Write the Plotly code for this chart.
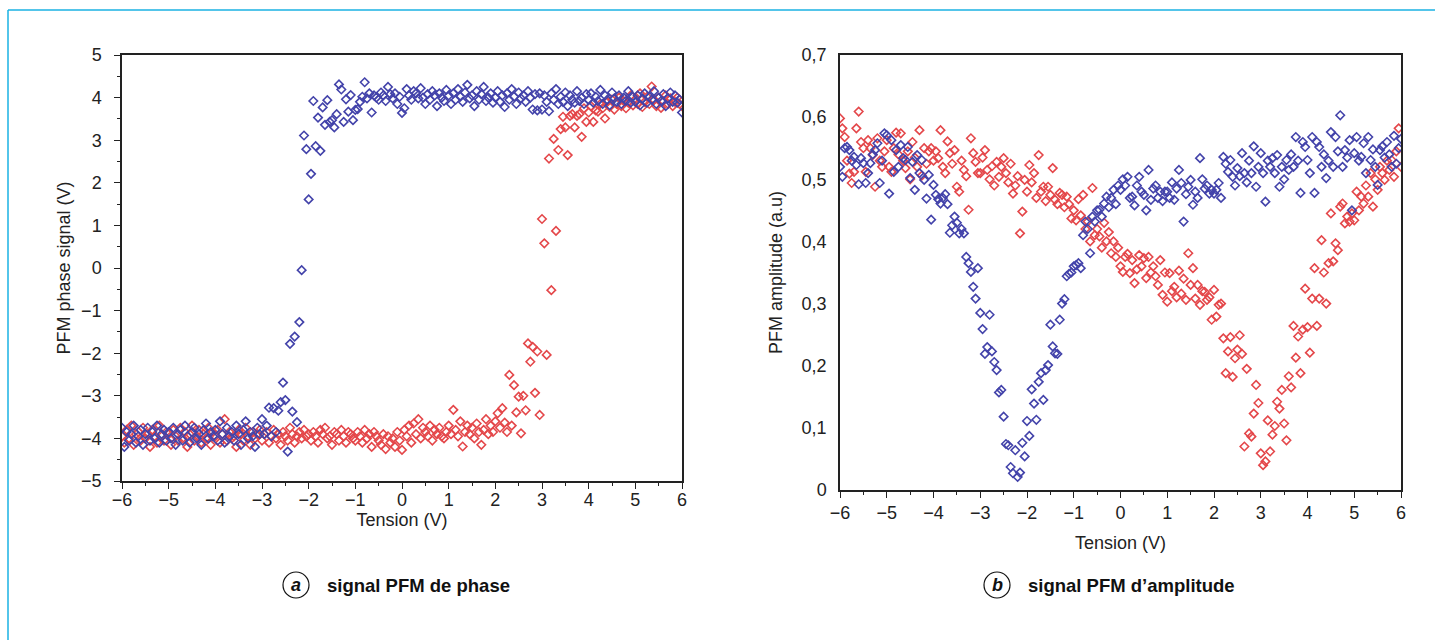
import numpy as np
import plotly.graph_objects as go

# ---------------- data ----------------
# voltage sweep (V), regular 0.05 V steps from -6 to 6
VOLTAGE = np.round(np.arange(-6.0, 6.0001, 0.05), 2)

PHASE_BLUE = [
    -3.75, -4.20, -3.85, -4.05, -3.90, -3.70, -4.10, -3.95, -3.80, -4.15, -3.90, -3.75, -4.05, -3.85, -4.00, -3.70, -4.10, -3.90, -3.80, -4.05,
    -3.85, -4.00, -3.75, -4.15, -3.90, -3.80, -4.05, -3.70, -3.95, -4.10, -3.85, -3.75, -4.00, -3.90, -4.15, -3.80, -3.65, -4.00, -3.85, -3.95,
    -3.80, -4.05, -3.60, -3.90, -4.10, -3.75, -3.95, -3.85, -4.05, -3.70, -3.90, -4.15, -3.80, -3.60, -4.00, -3.85, -3.95, -4.20, -3.75, -3.90,
    -3.55, -3.90, -3.70, -3.28, -3.95, -3.29, -3.85, -3.35, -3.15, -2.69, -3.10, -4.31, -1.78, -3.37, -1.61, -3.62, -1.27, -0.05, 3.11, 2.79,
    1.61, 2.21, 3.92, 2.86, 3.53, 2.75, 3.77, 3.36, 3.94, 3.43, 3.47, 3.30, 3.61, 4.31, 4.19, 3.43, 3.96, 3.67, 4.06, 3.47,
    3.71, 3.73, 3.90, 4.02, 4.36, 3.98, 4.10, 3.65, 4.05, 4.00, 3.95, 4.12, 4.05, 3.92, 4.25, 4.08, 3.98, 4.10, 3.85, 4.02,
    3.64, 3.75, 4.20, 4.05, 3.95, 4.15, 4.10, 3.98, 4.22, 4.00, 3.85, 4.08, 3.95, 4.15, 4.05, 3.80, 4.10, 4.00, 3.92, 4.18,
    4.05, 3.85, 4.10, 3.95, 4.20, 4.02, 3.90, 4.12, 4.30, 3.98, 4.05, 3.80, 4.15, 3.95, 4.08, 4.25, 3.92, 4.00, 4.10, 3.88,
    4.00, 4.15, 3.90, 4.05, 3.78, 4.10, 3.95, 4.20, 4.02, 3.85, 4.12, 3.98, 4.05, 3.90, 4.15, 4.00, 3.72, 4.08, 3.70, 4.10,
    3.72, 4.05, 3.90, 3.68, 4.10, 3.95, 4.20, 3.85, 4.02, 3.90, 4.12, 3.80, 4.05, 3.95, 3.88, 4.15, 3.92, 4.00, 3.85, 4.08,
    3.95, 4.10, 3.88, 4.02, 3.92, 4.18, 3.85, 4.05, 3.95, 3.82, 4.12, 3.98, 3.90, 4.05, 3.85, 4.00, 3.92, 4.15, 3.88, 4.02,
    3.90, 4.05, 3.82, 3.98, 4.10, 3.88, 4.02, 3.95, 4.15, 3.85, 4.00, 3.92, 4.08, 3.80, 3.98, 4.12, 3.90, 4.05, 3.88, 3.95,
    3.65,
]

PHASE_RED = [
    -3.95, -4.10, -3.80, -4.00, -3.70, -4.15, -3.90, -3.85, -4.05, -3.75, -4.00, -3.90, -4.20, -3.80, -3.95, -4.10, -3.70, -3.95, -4.05, -3.85,
    -3.90, -4.15, -3.80, -3.95, -4.05, -3.75, -4.00, -3.85, -4.20, -3.90, -3.70, -4.05, -3.95, -3.80, -4.10, -3.90, -4.00, -3.75, -4.15, -3.85,
    -3.95, -3.80, -4.10, -3.90, -3.55, -4.05, -3.85, -4.00, -3.95, -4.20, -3.80, -3.90, -4.05, -3.75, -3.95, -4.15, -3.85, -4.00, -3.90, -3.80,
    -4.05, -3.90, -3.85, -4.10, -3.95, -3.80, -4.00, -3.90, -4.15, -3.85, -3.95, -4.05, -3.75, -3.90, -4.10, -3.95, -3.85, -4.00, -3.80, -3.95,
    -3.90, -4.05, -3.85, -3.95, -4.10, -3.80, -3.90, -3.75, -4.00, -3.95, -4.15, -3.85, -3.90, -4.05, -3.80, -3.95, -4.10, -3.85, -3.90, -4.00,
    -4.05, -3.85, -3.95, -4.10, -3.80, -4.00, -3.90, -4.20, -3.85, -3.95, -4.05, -4.15, -3.90, -4.25, -3.95, -4.10, -4.00, -4.20, -3.85, -4.05,
    -4.27, -3.80, -3.95, -3.70, -4.10, -3.65, -3.90, -3.55, -4.00, -3.75, -3.85, -3.95, -3.70, -4.05, -3.80, -3.90, -3.75, -3.95, -4.00, -3.85,
    -3.70, -3.90, -3.33, -3.80, -3.95, -3.60, -4.19, -3.85, -3.70, -3.90, -3.75, -4.00, -3.65, -3.85, -4.15, -3.80, -3.55, -3.90, -3.70, -3.85,
    -3.60, -3.41, -3.75, -3.29, -3.63, -3.85, -2.51, -3.70, -2.75, -3.39, -3.02, -3.88, -3.00, -3.34, -1.77, -2.20, -1.85, -2.93, -1.96, -3.45,
    1.15, 0.58, -2.04, 2.57, -0.52, 3.03, 0.87, 2.77, 3.26, 3.55, 3.30, 2.65, 3.57, 3.61, 3.30, 3.57, 3.61, 3.08, 3.75, 3.43,
    3.65, 3.80, 3.43, 3.70, 3.67, 3.85, 3.75, 3.51, 3.90, 3.78, 3.95, 3.72, 3.85, 4.00, 3.80, 3.92, 3.75, 3.88, 4.05, 3.82,
    3.95, 3.85, 4.10, 3.78, 3.90, 4.02, 3.85, 4.26, 3.95, 3.80, 4.00, 3.76, 3.92, 4.05, 3.85, 3.98, 3.80, 3.90, 4.00, 3.85,
    3.80,
]

AMP_BLUE = [
    0.520, 0.504, 0.550, 0.552, 0.547, 0.530, 0.536, 0.523, 0.492, 0.534, 0.526, 0.494, 0.510, 0.526, 0.540, 0.547, 0.558, 0.494, 0.530, 0.574,
    0.571, 0.477, 0.563, 0.512, 0.547, 0.520, 0.555, 0.534, 0.531, 0.552, 0.502, 0.528, 0.483, 0.539, 0.510, 0.531, 0.499, 0.469, 0.507, 0.435,
    0.491, 0.475, 0.468, 0.461, 0.470, 0.476, 0.460, 0.414, 0.426, 0.440, 0.430, 0.413, 0.420, 0.413, 0.375, 0.365, 0.351, 0.327, 0.308, 0.357,
    0.285, 0.259, 0.219, 0.230, 0.282, 0.223, 0.206, 0.193, 0.157, 0.161, 0.118, 0.074, 0.072, 0.037, 0.027, 0.064, 0.021, 0.028, 0.076, 0.054,
    0.111, 0.087, 0.162, 0.139, 0.113, 0.174, 0.188, 0.145, 0.193, 0.201, 0.266, 0.231, 0.220, 0.219, 0.274, 0.300, 0.307, 0.344, 0.348, 0.350,
    0.360, 0.362, 0.365, 0.357, 0.410, 0.432, 0.420, 0.381, 0.440, 0.432, 0.450, 0.451, 0.440, 0.461, 0.472, 0.455, 0.470, 0.483, 0.460, 0.490,
    0.483, 0.500, 0.490, 0.504, 0.470, 0.472, 0.458, 0.490, 0.504, 0.480, 0.475, 0.450, 0.515, 0.467, 0.485, 0.490, 0.470, 0.480, 0.465, 0.480,
    0.480, 0.470, 0.495, 0.467, 0.485, 0.515, 0.494, 0.432, 0.476, 0.488, 0.499, 0.459, 0.480, 0.470, 0.534, 0.500, 0.485, 0.490, 0.477, 0.483,
    0.477, 0.483, 0.494, 0.470, 0.536, 0.525, 0.512, 0.531, 0.504, 0.490, 0.518, 0.505, 0.542, 0.510, 0.495, 0.530, 0.510, 0.553, 0.488, 0.520,
    0.542, 0.510, 0.464, 0.530, 0.520, 0.534, 0.510, 0.539, 0.488, 0.520, 0.500, 0.531, 0.515, 0.540, 0.520, 0.568, 0.530, 0.478, 0.560, 0.552,
    0.531, 0.510, 0.568, 0.478, 0.560, 0.552, 0.520, 0.540, 0.502, 0.530, 0.576, 0.520, 0.568, 0.545, 0.603, 0.520, 0.547, 0.535, 0.563, 0.450,
    0.542, 0.568, 0.530, 0.536, 0.558, 0.510, 0.568, 0.531, 0.548, 0.520, 0.491, 0.547, 0.553, 0.535, 0.560, 0.540, 0.520, 0.570, 0.525, 0.550,
    0.565,
]

AMP_RED = [
    0.598, 0.582, 0.568, 0.530, 0.509, 0.494, 0.512, 0.582, 0.609, 0.560, 0.550, 0.512, 0.563, 0.550, 0.539, 0.488, 0.566, 0.530, 0.520, 0.545,
    0.563, 0.520, 0.512, 0.550, 0.575, 0.540, 0.574, 0.530, 0.518, 0.545, 0.500, 0.560, 0.535, 0.520, 0.579, 0.506, 0.550, 0.525, 0.545, 0.550,
    0.530, 0.545, 0.534, 0.579, 0.520, 0.510, 0.561, 0.542, 0.525, 0.547, 0.488, 0.480, 0.530, 0.515, 0.505, 0.451, 0.566, 0.542, 0.528, 0.510,
    0.510, 0.535, 0.547, 0.515, 0.500, 0.521, 0.490, 0.528, 0.504, 0.520, 0.534, 0.510, 0.495, 0.525, 0.477, 0.490, 0.505, 0.413, 0.448, 0.499,
    0.480, 0.523, 0.495, 0.510, 0.470, 0.539, 0.480, 0.488, 0.465, 0.488, 0.475, 0.518, 0.467, 0.460, 0.478, 0.475, 0.455, 0.472, 0.460, 0.437,
    0.450, 0.434, 0.468, 0.442, 0.475, 0.420, 0.432, 0.400, 0.486, 0.410, 0.420, 0.408, 0.390, 0.430, 0.400, 0.415, 0.381, 0.400, 0.375, 0.390,
    0.360, 0.351, 0.375, 0.380, 0.349, 0.370, 0.333, 0.355, 0.378, 0.360, 0.373, 0.341, 0.375, 0.350, 0.360, 0.344, 0.330, 0.370, 0.314, 0.350,
    0.303, 0.349, 0.320, 0.327, 0.310, 0.353, 0.316, 0.340, 0.306, 0.381, 0.330, 0.357, 0.308, 0.330, 0.298, 0.320, 0.319, 0.306, 0.310, 0.274,
    0.322, 0.279, 0.298, 0.300, 0.244, 0.188, 0.223, 0.246, 0.182, 0.212, 0.226, 0.249, 0.219, 0.070, 0.195, 0.091, 0.086, 0.123, 0.169, 0.140,
    0.059, 0.040, 0.046, 0.112, 0.062, 0.089, 0.103, 0.142, 0.131, 0.161, 0.107, 0.080, 0.183, 0.165, 0.264, 0.213, 0.247, 0.188, 0.258, 0.324,
    0.262, 0.221, 0.308, 0.357, 0.264, 0.308, 0.402, 0.350, 0.300, 0.365, 0.445, 0.368, 0.397, 0.386, 0.456, 0.461, 0.429, 0.440, 0.432, 0.445,
    0.434, 0.480, 0.450, 0.472, 0.461, 0.490, 0.472, 0.510, 0.456, 0.500, 0.483, 0.520, 0.510, 0.499, 0.530, 0.515, 0.531, 0.504, 0.545, 0.582,
    0.520,
]

X_TICKS = [-6, -5, -4, -3, -2, -1, 0, 1, 2, 3, 4, 5, 6]
PHASE_TICKS = [-5, -4, -3, -2, -1, 0, 1, 2, 3, 4, 5]
AMP_TICKS = [0, 0.1, 0.2, 0.3, 0.4, 0.5, 0.6, 0.7]
AMP_TICK_TEXT = ["0", "0,1", "0,2", "0,3", "0,4", "0,5", "0,6", "0,7"]

# ---------------- styling ----------------
W, H = 1435, 640
FONT = "Liberation Sans, Arial, sans-serif"
BLUE = "#4343aa"
RED = "#e4474a"
AXC = "#222222"
CYAN = "#1ab2e3"
TICK_SIZE = 18
TITLE_SIZE = 18


def px(x):
    return x / W


def py(y):
    return 1 - y / H


fig = go.Figure()

marker_common = dict(symbol="diamond-open", size=6.5)

fig.add_trace(go.Scatter(x=VOLTAGE, y=PHASE_RED, mode="markers", xaxis="x", yaxis="y",
                         marker=dict(color=RED, line=dict(width=1.6), **marker_common), showlegend=False))
fig.add_trace(go.Scatter(x=VOLTAGE, y=PHASE_BLUE, mode="markers", xaxis="x", yaxis="y",
                         marker=dict(color=BLUE, line=dict(width=1.6), **marker_common), showlegend=False))
fig.add_trace(go.Scatter(x=VOLTAGE, y=AMP_RED, mode="markers", xaxis="x2", yaxis="y2",
                         marker=dict(color=RED, line=dict(width=1.6), **marker_common), showlegend=False))
fig.add_trace(go.Scatter(x=VOLTAGE, y=AMP_BLUE, mode="markers", xaxis="x2", yaxis="y2",
                         marker=dict(color=BLUE, line=dict(width=1.6), **marker_common), showlegend=False))

axis_common = dict(
    showline=True, linecolor=AXC, linewidth=1.5, mirror=True,
    ticks="outside", ticklen=6, tickwidth=1.2, tickcolor=AXC,
    showgrid=False, zeroline=False, automargin=False,
    tickfont=dict(size=TICK_SIZE, color=AXC, family=FONT),
)
minor_common = dict(ticks="outside", ticklen=3, tickwidth=1, tickcolor=AXC)

fig.update_layout(
    width=W, height=H,
    margin=dict(l=0, r=0, t=0, b=0, autoexpand=False),
    paper_bgcolor="white", plot_bgcolor="white",
    font=dict(family=FONT, color=AXC, size=TITLE_SIZE),
    xaxis=dict(domain=[px(122), px(682)], anchor="y", range=[-6, 6], tickvals=X_TICKS,
               minor=dict(dtick=0.5, **minor_common), ticklabelstandoff=-4,
               title=dict(text="Tension (V)", font=dict(size=TITLE_SIZE), standoff=0), **axis_common),
    yaxis=dict(domain=[py(481), py(55)], anchor="x", range=[-5, 5], tickvals=PHASE_TICKS,
               minor=dict(dtick=0.5, **minor_common), ticklabelstandoff=9,
               title=dict(text="PFM phase signal (V)", font=dict(size=TITLE_SIZE), standoff=6), **axis_common),
    xaxis2=dict(domain=[px(840), px(1401)], anchor="y2", range=[-6, 6], tickvals=X_TICKS,
                minor=dict(dtick=0.5, **minor_common),
                title=dict(text="Tension (V)", font=dict(size=TITLE_SIZE), standoff=14), **axis_common),
    yaxis2=dict(domain=[py(490), py(55)], anchor="x2", range=[0, 0.7],
                tickvals=AMP_TICKS, ticktext=AMP_TICK_TEXT, ticklabelstandoff=8,
                title=dict(text="PFM amplitude (a.u)", font=dict(size=TITLE_SIZE), standoff=14),
                **{**axis_common, "ticks": "", "ticklen": 0}),
)

# captions
captions = [(296, "a", "signal PFM de phase"), (997, "b", "signal PFM d\u2019amplitude")]
for cx, letter, text in captions:
    cy = 585
    r = 13
    fig.add_shape(type="circle", xref="paper", yref="paper",
                  x0=px(cx - r), x1=px(cx + r), y0=py(cy + r), y1=py(cy - r),
                  line=dict(color="#111", width=1.2))
    fig.add_annotation(xref="paper", yref="paper", x=px(cx), y=py(cy), text=f"<b><i>{letter}</i></b>",
                       showarrow=False, xanchor="center", yanchor="middle",
                       font=dict(size=18, color="#111", family=FONT))
    fig.add_annotation(xref="paper", yref="paper", x=px(cx + 29), y=py(cy), text=f"<b>{text}</b>",
                       showarrow=False, xanchor="left", yanchor="middle",
                       font=dict(size=18.5, color="#111", family=FONT))

# cyan frame lines (top and left)
fig.add_shape(type="line", xref="paper", yref="paper", x0=px(8), x1=1, y0=py(10), y1=py(10),
              line=dict(color=CYAN, width=1.5))
fig.add_shape(type="line", xref="paper", yref="paper", x0=px(8), x1=px(8), y0=py(10), y1=0,
              line=dict(color=CYAN, width=1.5))

fig.write_html("out.html", config={"displayModeBar": False},
               post_script="document.body.style.margin='0';")
